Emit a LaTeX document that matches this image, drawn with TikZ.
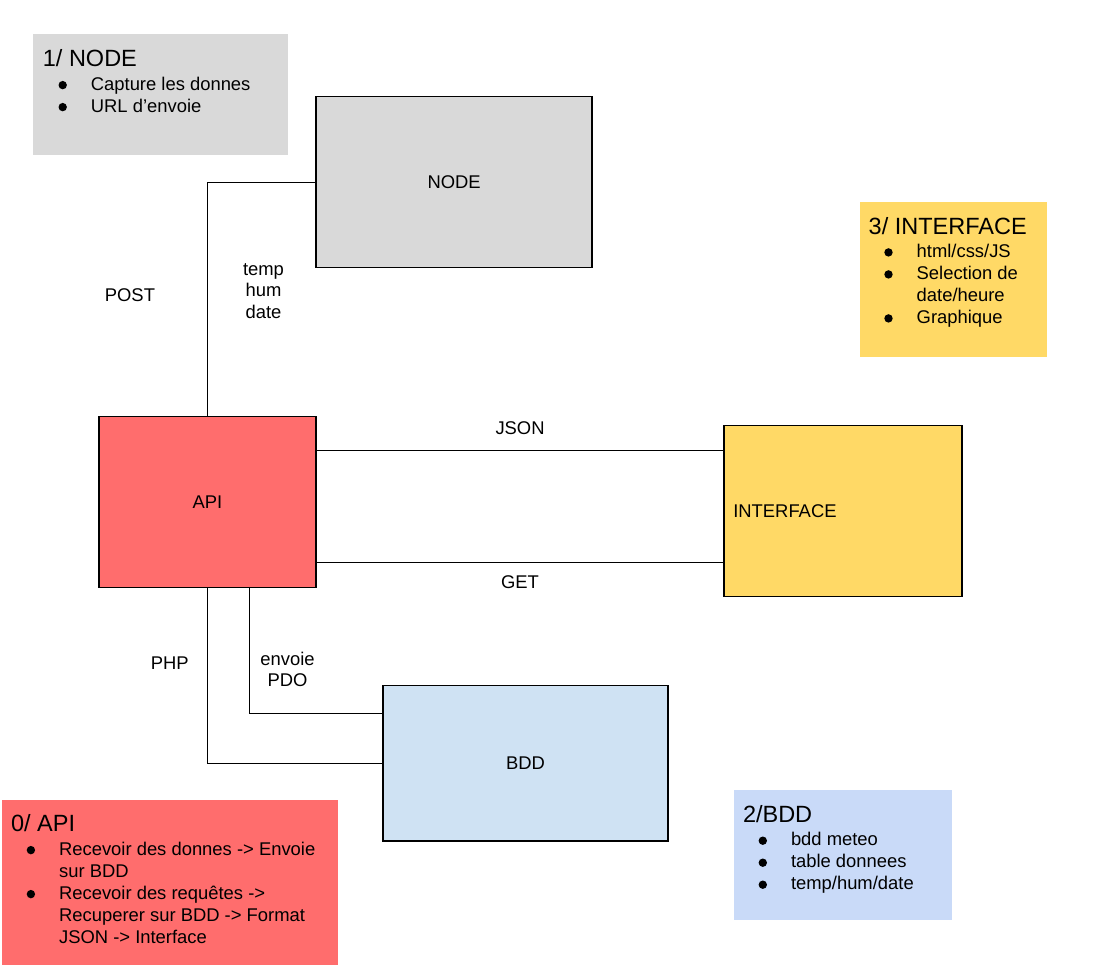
\documentclass[tikz,border=0pt]{standalone}
\usepackage{fontspec}
\setmainfont{Liberation Sans}
\usepackage{array}
\usetikzlibrary{positioning,calc}

\definecolor{nodegray}{HTML}{D9D9D9}
\definecolor{apired}{HTML}{FF6D6D}
\definecolor{uiyellow}{HTML}{FFD966}
\definecolor{bddblue}{HTML}{CFE2F3}
\definecolor{noteblue}{HTML}{C9DAF8}

% note layout: bullet column + text column
\newcolumntype{N}{@{\hspace{7.8pt}}p{16.2pt}@{}l@{}}
\newcommand{\notehead}[1]{\multicolumn{2}{@{}l@{}}{\fontsize{11.75}{13}\selectfont #1}\\[0.7pt]}
\newcommand{\bul}{\tikz[baseline=0pt]\fill (2.1pt,2.5pt) circle[radius=2.1pt];}

\tikzset{
	box/.style={draw, line width=0.65pt, minimum height=85.5pt, inner sep=0pt, font=\fontsize{9.2}{11}\selectfont},
	link/.style={line width=0.5pt},
	lbl/.style={inner sep=0pt, align=center, font=\fontsize{9.2}{10.75}\selectfont},
	notetxt/.style={inner sep=0pt, anchor=base west, font=\fontsize{9.2}{11}\selectfont},
}

\begin{document}
\begin{tikzpicture}[x=0.5pt, y=-0.5pt]
			\useasboundingbox (0,0) rectangle (1120,976);

			% Notes
			\fill [nodegray] (33.3,34.3) rectangle (288,155);
			\node[notetxt] (notenode) at (42.5,66.7) {\begin{tabular}[t]{N}
				\notehead{1/ NODE}
				\bul & Capture les donnes\\
				\bul & URL d’envoie
			\end{tabular}};

			\fill [uiyellow] (860,201.7) rectangle (1047,356.7);
			\node[notetxt] (noteiface) at (868.3,234) {\begin{tabular}[t]{N}
				\notehead{3/ INTERFACE}
				\bul & html/css/JS\\
				\bul & Selection de\\
				     & date/heure\\
				\bul & Graphique
			\end{tabular}};

			\fill [apired] (1.7,800) rectangle (338,965);
			\node[notetxt] (noteapi) at (10.7,831.7) {\begin{tabular}[t]{N}
				\notehead{0/ API}
				\bul & Recevoir des donnes -> Envoie\\
				     & sur BDD\\
				\bul & Recevoir des requêtes ->\\
				     & Recuperer sur BDD -> Format\\
				     & JSON -> Interface
			\end{tabular}};

			\fill [noteblue] (734.3,790) rectangle (951.7,920);
			\node[notetxt] (notebdd) at (742.6,822.3) {\begin{tabular}[t]{N}
				\notehead{2/BDD}
				\bul & bdd meteo\\
				\bul & table donnees\\
				\bul & temp/hum/date
			\end{tabular}};

			% Boxes
			\node[box, fill=nodegray, minimum width=138pt] (nodebox) at (454.1,182) {NODE};
			\node[box, fill=apired, minimum width=108.6pt] (api) at (207.5,501.7) {API};
			\node[box, fill=uiyellow, inner xsep=4.65pt, text width=109.7pt, align=left] (iface) at (843,511.2) {INTERFACE};
			\node[box, fill=bddblue, minimum width=142.5pt, minimum height=77.7pt] (bdd) at (525.5,763.3) {BDD};

			% Links
			\draw[link] (api.north) |- (nodebox.west)
				node[lbl, pos=0.25, left=26pt, yshift=2pt] (post) {POST}
				node[lbl, pos=0.25, right=17.5pt, yshift=4pt] (thd) {temp\\hum\\date};

			\path (api.east) ++(0,-51) coordinate (jsonA);
			\path (api.east) ++(0,60.6) coordinate (getA);
			\draw[link] (jsonA) -- (jsonA -| iface.west) node[lbl, midway, above=7.85pt] (json) {JSON};
			\draw[link] (getA) -- (getA -| iface.west) node[lbl, midway, below=6.35pt] (get) {GET};

			\draw[link] (api.south) |- (bdd.west)
				node[lbl, pos=0.25, left=9.15pt, yshift=6.2pt] (php) {PHP};
			\draw[link] ($(api.south)+(41.8,0)$) |- ($(bdd.west)+(0,-50)$)
				node[lbl, pos=0.25, right=5.3pt, yshift=-9.3pt] (pdo) {envoie\\PDO};
		\end{tikzpicture}
\end{document}
